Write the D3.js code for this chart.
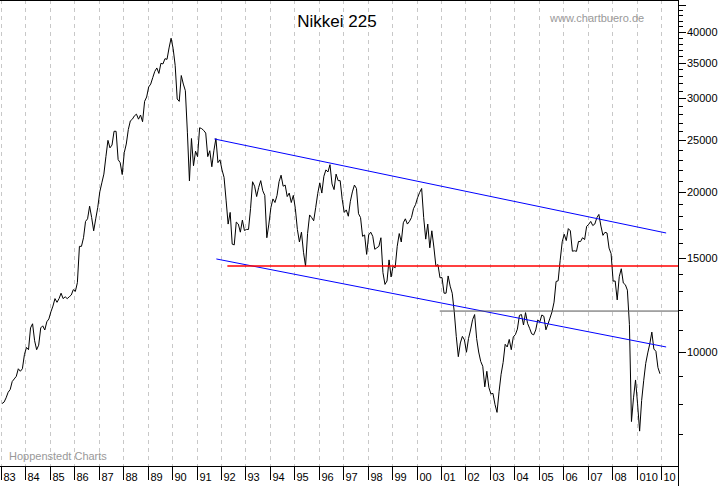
<!DOCTYPE html><html><head><meta charset="utf-8">
<script src="https://cdn.jsdelivr.net/npm/d3@7"></script>
<style>body{margin:0;background:#fff}svg{display:block}text{font-family:Arial,"Liberation Sans",sans-serif}</style>
</head><body><svg id="c" width="723" height="486"></svg>
<script>
const startYear = 1983;
const monthly = [
8000,8050,8200,8400,8500,8800,8900,9000,9300,9200,9300,9890,
10200,10100,11100,11300,10500,10100,10300,11100,11200,11000,11400,11540,
11900,12200,12600,12400,12600,12900,12600,12700,12600,12700,12800,13100,
13000,13500,15800,15800,16400,17600,17800,18800,17900,16900,17800,18700,
20000,20800,21600,23300,25000,24200,24500,26000,26000,23000,22700,21560,
23700,24600,26200,27200,27400,27800,28000,27400,27900,27100,29600,30160,
31500,31900,32800,33700,34200,33400,34900,34800,35600,35500,37300,38900,
37200,34600,29900,29600,33100,31900,31000,25900,20980,25200,22400,23850,
23300,26400,26300,26100,25800,23300,23900,22300,23900,25200,22700,22980,
22000,21300,19300,17400,18300,15950,15900,17550,17400,16800,17700,16920,
17000,17000,18600,20900,20500,19600,20400,21000,20100,19700,16400,17400,
18700,19400,19100,19700,20900,21500,20500,20600,19600,19900,19100,19700,
18600,17000,16100,16800,15400,14500,16700,18100,17900,17650,18700,19870,
20800,19900,21400,22000,21800,22500,20700,20200,21600,21000,21000,19360,
18300,18500,18000,19200,20000,20600,20300,18200,17900,16500,16600,15260,
16600,16800,16500,15600,15700,15800,16400,14100,13400,13600,14900,13840,
14500,14400,15800,16700,16100,17500,17800,17400,17600,17900,18600,18930,
19500,19950,20300,17900,16300,17400,15700,16900,15750,14500,14600,13790,
13800,12900,12900,13900,13300,12900,11900,10700,9800,10400,10700,10540,
9990,10600,11000,11500,11760,10600,10000,9600,9400,8600,9200,8580,
8340,8360,7970,7700,8420,9080,9560,10340,10220,10560,10100,10680,
10780,11040,11720,11760,11240,11860,11320,11080,10820,10770,11000,11490,
11390,11740,11670,11010,11280,11580,11900,12410,13570,13610,14870,16110,
16650,16200,17060,16900,15470,15500,15460,16140,16130,16400,16270,17230,
17380,17600,17290,17400,17880,18140,17250,16570,16790,16740,15680,15310,
13590,13600,12530,13850,14340,13480,13380,13070,11260,7400,8200,8860,
7990,7100,8110,8830,9520,9960,10360,10900,10130,10030,9350,9100
];
const yearLabels = ["83","84","85","86","87","88","89","90","91","92","93","94","95","96","97","98","99","00","01","02","03","04","05","06","07","08","010","10"];
const yTickValues = [10000,15000,20000,25000,30000,35000,40000];
const upperChannel = [[1991.73,25150],[2010.21,16740]];
const lowerChannel = [[1991.81,14960],[2010.21,10220]];
const redLine = [[1992.26,14510],[2010.7,14510]];
const grayLine = [[2000.95,11940],[2010.7,11940]];

const svg = d3.select("#c");
const W=678, H=466;
const x = d3.scaleLinear().domain([1983,2010]).range([1,661]);
const y = d3.scaleLog().domain([6105,45900]).range([H,0]);

svg.append("g").selectAll("line").data(d3.range(1983,2011)).join("line")
 .attr("x1",d=>Math.round(x(d))+0.5).attr("x2",d=>Math.round(x(d))+0.5).attr("y1",0).attr("y2",H)
 .attr("stroke","#c8c8c8").attr("stroke-dasharray","4,4");

const data = monthly.map((v,i)=>[startYear+(i+0.5)/12,v]);
const line = d3.line().x(d=>x(d[0])).y(d=>y(d[1]));
svg.append("clipPath").attr("id","cl").append("rect").attr("width",W).attr("height",H);
const g = svg.append("g").attr("clip-path","url(#cl)");
g.append("path").datum(data).attr("d",line).attr("fill","none").attr("stroke","#000").attr("stroke-width",1);
g.append("path").datum(upperChannel).attr("d",line).attr("stroke","#0000ff").attr("fill","none");
g.append("path").datum(lowerChannel).attr("d",line).attr("stroke","#0000ff").attr("fill","none");
g.append("path").datum(redLine).attr("d",line).attr("stroke","#ff0000").attr("stroke-width",1.5).attr("fill","none");
g.append("path").datum(grayLine).attr("d",line).attr("stroke","#555").attr("fill","none");

svg.append("line").attr("x1",0).attr("x2",W).attr("y1",H+0.5).attr("y2",H+0.5).attr("stroke","#000");
svg.append("line").attr("x1",W+0.5).attr("x2",W+0.5).attr("y1",0).attr("y2",486).attr("stroke","#000");
svg.append("line").attr("x1",0).attr("x2",W).attr("y1",0.5).attr("y2",0.5).attr("stroke","#000");

const minor = d3.range(7000,46000,1000);
svg.append("g").selectAll("line").data(minor).join("line")
 .attr("x1",W).attr("x2",d=>W+(d%5000===0?8:5)).attr("y1",d=>Math.round(y(d))+0.5).attr("y2",d=>Math.round(y(d))+0.5).attr("stroke","#000");
svg.append("g").selectAll("text").data(yTickValues).join("text")
 .attr("x",W+9).attr("y",d=>y(d)+4).attr("font-size",11).text(d=>d);

svg.append("g").selectAll("g").data(yearLabels).join("g").each(function(d,i){
  const gx=Math.round(x(1983+i))+0.5;
  d3.select(this).append("line").attr("x1",gx).attr("x2",gx).attr("y1",H).attr("y2",H+14).attr("stroke","#000");
  d3.select(this).append("text").attr("x",gx+2).attr("y",H+15).attr("font-size",11).text(d);
});

svg.append("text").attr("x",337).attr("y",27).attr("text-anchor","middle").attr("font-size",17).text("Nikkei 225");
svg.append("text").attr("x",550).attr("y",22).attr("font-size",11).attr("fill","#999").text("www.chartbuero.de");
svg.append("text").attr("x",9).attr("y",460).attr("font-size",11).attr("fill","#999").text("Hoppenstedt Charts");
</script></body></html>
